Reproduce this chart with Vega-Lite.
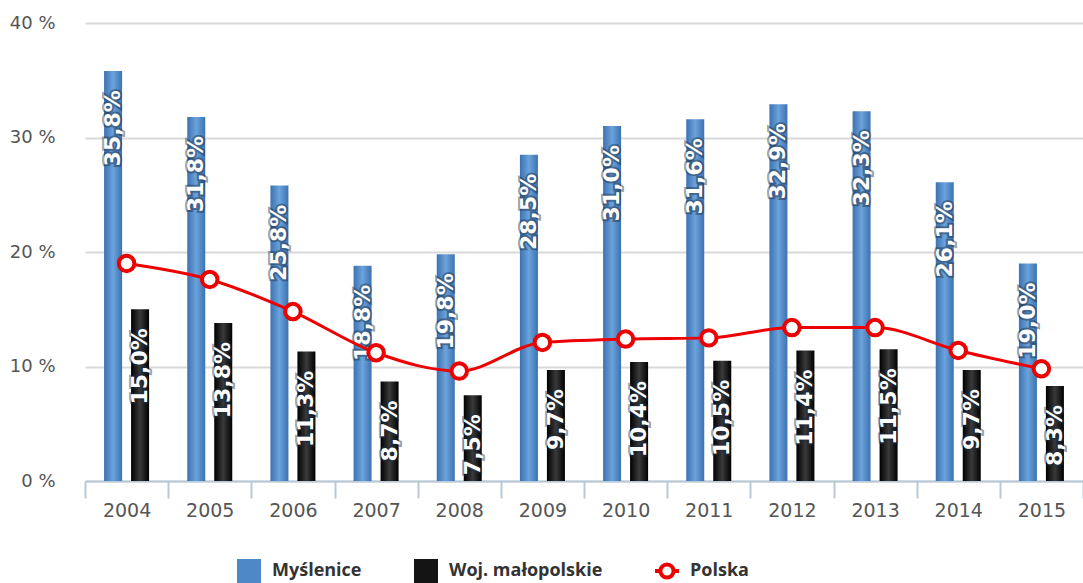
{
  "$schema": "https://vega.github.io/schema/vega-lite/v6.json",
  "width": 998,
  "height": 458,
  "autosize": {"type": "none"},
  "padding": {"left": 85, "top": 23, "right": 0, "bottom": 102},
  "background": "white",
  "data": {
    "values": [
      {"year": "2004", "series": "Myślenice", "value": 35.8},
      {"year": "2005", "series": "Myślenice", "value": 31.8},
      {"year": "2006", "series": "Myślenice", "value": 25.8},
      {"year": "2007", "series": "Myślenice", "value": 18.8},
      {"year": "2008", "series": "Myślenice", "value": 19.8},
      {"year": "2009", "series": "Myślenice", "value": 28.5},
      {"year": "2010", "series": "Myślenice", "value": 31.0},
      {"year": "2011", "series": "Myślenice", "value": 31.6},
      {"year": "2012", "series": "Myślenice", "value": 32.9},
      {"year": "2013", "series": "Myślenice", "value": 32.3},
      {"year": "2014", "series": "Myślenice", "value": 26.1},
      {"year": "2015", "series": "Myślenice", "value": 19.0},
      {"year": "2004", "series": "Woj. małopolskie", "value": 15.0},
      {"year": "2005", "series": "Woj. małopolskie", "value": 13.8},
      {"year": "2006", "series": "Woj. małopolskie", "value": 11.3},
      {"year": "2007", "series": "Woj. małopolskie", "value": 8.7},
      {"year": "2008", "series": "Woj. małopolskie", "value": 7.5},
      {"year": "2009", "series": "Woj. małopolskie", "value": 9.7},
      {"year": "2010", "series": "Woj. małopolskie", "value": 10.4},
      {"year": "2011", "series": "Woj. małopolskie", "value": 10.5},
      {"year": "2012", "series": "Woj. małopolskie", "value": 11.4},
      {"year": "2013", "series": "Woj. małopolskie", "value": 11.5},
      {"year": "2014", "series": "Woj. małopolskie", "value": 9.7},
      {"year": "2015", "series": "Woj. małopolskie", "value": 8.3},
      {"year": "2004", "series": "Polska", "value": 19.0},
      {"year": "2005", "series": "Polska", "value": 17.6},
      {"year": "2006", "series": "Polska", "value": 14.8},
      {"year": "2007", "series": "Polska", "value": 11.2},
      {"year": "2008", "series": "Polska", "value": 9.6},
      {"year": "2009", "series": "Polska", "value": 12.1},
      {"year": "2010", "series": "Polska", "value": 12.4},
      {"year": "2011", "series": "Polska", "value": 12.5},
      {"year": "2012", "series": "Polska", "value": 13.4},
      {"year": "2013", "series": "Polska", "value": 13.4},
      {"year": "2014", "series": "Polska", "value": 11.4},
      {"year": "2015", "series": "Polska", "value": 9.8}
    ]
  },
  "encoding": {
    "x": {
      "field": "year",
      "type": "nominal",
      "scale": {"paddingInner": 0, "paddingOuter": 0},
      "axis": {
        "title": null,
        "labelAngle": 0,
        "domainColor": "#b8c8d8",
        "domainWidth": 2,
        "tickColor": "#b8c8d8",
        "tickWidth": 2,
        "tickSize": 17,
        "tickBand": "extent",
        "labelFont": "DejaVu Sans",
        "labelFontSize": 19,
        "labelColor": "#555555",
        "labelPadding": 3
      }
    },
    "y": {
      "field": "value",
      "type": "quantitative",
      "scale": {"domain": [0, 40], "nice": false},
      "axis": {
        "title": null,
        "values": [0, 10, 20, 30, 40],
        "labelExpr": "datum.value + ' %'",
        "domain": false,
        "ticks": false,
        "grid": true,
        "gridColor": "#d9d9d9",
        "gridWidth": 2,
        "labelPadding": 30,
        "labelFont": "DejaVu Sans",
        "labelFontSize": 18,
        "labelColor": "#555555"
      }
    }
  },
  "layer": [
    {
      "transform": [{"filter": "datum.series !== 'Polska'"}],
      "mark": {"type": "bar"},
      "encoding": {
        "xOffset": {
          "field": "series",
          "type": "nominal",
          "scale": {"domain": ["Myślenice", "Woj. małopolskie"], "paddingInner": 0.333, "paddingOuter": 0.707}
        },
        "fill": {
          "condition": {
            "test": "datum.series === 'Myślenice'",
            "value": {"gradient": "linear", "x1": 0, "y1": 0, "x2": 1, "y2": 0,
              "stops": [{"offset": 0, "color": "#3c72b0"}, {"offset": 0.5, "color": "#6ba3dc"}, {"offset": 1, "color": "#3c72b0"}]}
          },
          "value": {"gradient": "linear", "x1": 0, "y1": 0, "x2": 1, "y2": 0,
            "stops": [{"offset": 0, "color": "#000000"}, {"offset": 0.5, "color": "#3a3a3a"}, {"offset": 1, "color": "#000000"}]}
        }
      }
    },
    {
      "transform": [
        {"filter": "datum.series !== 'Polska'"},
        {"calculate": "replace(format(datum.value, '.1f'), '.', ',') + '%'", "as": "label"}
      ],
      "mark": {"type": "text", "angle": 270, "align": "right", "baseline": "middle", "dx": -19,
        "font": "DejaVu Sans", "fontWeight": "bold", "fontSize": 22,
        "stroke": "#1c2c40", "strokeWidth": 4, "strokeOpacity": 0.45, "fill": "#1c2c40", "fillOpacity": 0.45},
      "encoding": {
        "xOffset": {"field": "series", "type": "nominal", "scale": {"domain": ["Myślenice", "Woj. małopolskie"]}},
        "text": {"field": "label"}
      }
    },
    {
      "transform": [
        {"filter": "datum.series !== 'Polska'"},
        {"calculate": "replace(format(datum.value, '.1f'), '.', ',') + '%'", "as": "label"}
      ],
      "mark": {"type": "text", "angle": 270, "align": "right", "baseline": "middle", "dx": -19,
        "font": "DejaVu Sans", "fontWeight": "bold", "fontSize": 22, "fill": "white"},
      "encoding": {
        "xOffset": {"field": "series", "type": "nominal", "scale": {"domain": ["Myślenice", "Woj. małopolskie"]}},
        "text": {"field": "label"}
      }
    },
    {
      "transform": [{"filter": "datum.series === 'Polska'"}],
      "mark": {"type": "line", "interpolate": "monotone", "stroke": "#ec0000", "strokeWidth": 3}
    },
    {
      "transform": [{"filter": "datum.series === 'Polska'"}],
      "mark": {"type": "point", "filled": true, "fill": "white", "stroke": "#ec0000", "strokeWidth": 4, "size": 240, "opacity": 1}
    },
    {
      "transform": [{"filter": "datum.year === '2004'"}],
      "mark": {"type": "point", "opacity": 0, "filled": true},
      "encoding": {
        "fill": {
          "field": "series",
          "type": "nominal",
          "scale": {"domain": ["Myślenice", "Woj. małopolskie", "Polska"], "range": ["#4f88c6", "#141414", "#ffffff"]},
          "legend": {
            "title": null,
            "orient": "none",
            "legendX": 150,
            "legendY": 534,
            "direction": "horizontal",
            "columnPadding": 44,
            "labelFont": "Open Sans",
            "labelFontWeight": "bold",
            "labelFontSize": 18,
            "labelColor": "#333333",
            "labelOffset": 9,
            "labelLimit": 400,
            "symbolSize": 576,
            "symbolOpacity": 1,
            "symbolStrokeWidth": 4
          }
        },
        "stroke": {
          "field": "series",
          "type": "nominal",
          "scale": {"domain": ["Myślenice", "Woj. małopolskie", "Polska"], "range": ["transparent", "transparent", "#ec0000"]},
          "legend": {
            "title": null,
            "orient": "none",
            "legendX": 150,
            "legendY": 534,
            "direction": "horizontal",
            "columnPadding": 44,
            "labelFont": "Open Sans",
            "labelFontWeight": "bold",
            "labelFontSize": 18,
            "labelColor": "#333333",
            "labelOffset": 9,
            "labelLimit": 400,
            "symbolSize": 576,
            "symbolOpacity": 1,
            "symbolStrokeWidth": 4
          }
        },
        "shape": {
          "field": "series",
          "type": "nominal",
          "scale": {"domain": ["Myślenice", "Woj. małopolskie", "Polska"], "range": ["square", "square", "M0,-1M0,1M-1,0L-0.55,0M0.55,0L1,0M0.55,0A0.55,0.55,0,1,1,-0.55,0A0.55,0.55,0,1,1,0.55,0"]},
          "legend": {
            "title": null,
            "orient": "none",
            "legendX": 150,
            "legendY": 534,
            "direction": "horizontal",
            "columnPadding": 44,
            "labelFont": "Open Sans",
            "labelFontWeight": "bold",
            "labelFontSize": 18,
            "labelColor": "#333333",
            "labelOffset": 9,
            "labelLimit": 400,
            "symbolSize": 576,
            "symbolOpacity": 1,
            "symbolStrokeWidth": 4
          }
        }
      }
    }
  ],
  "config": {
    "view": {"stroke": null}
  }
}
